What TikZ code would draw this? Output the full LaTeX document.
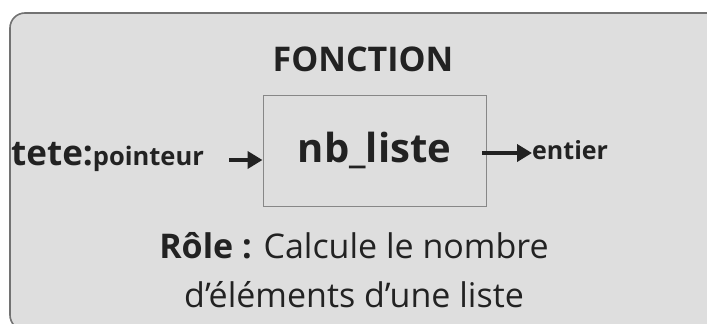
\documentclass[tikz,border=0pt]{standalone}
\usepackage{fontspec}
\setmainfont{Open Sans}
\usetikzlibrary{arrows.meta,positioning}
\definecolor{fond}{HTML}{DEDEDE}
\definecolor{bord}{HTML}{727272}
\definecolor{encre}{HTML}{222222}

\begin{document}
\begin{tikzpicture}[x=1pt,y=-1pt]
      \tikzstyle{every node}=[text=encre, inner sep=0pt]
      \tikzstyle{fleche}=[draw=encre, line width=4.2pt,
        -{Triangle[length=15pt,width=17pt]}]
      \useasboundingbox (0,0) rectangle (707,324);
      % cadre gris (coupe a droite et en bas)
      \draw[fill=fond, draw=bord, line width=1.6pt, rounded corners=15pt]
        (10,13) rectangle (722,330);
      \node[anchor=base, font=\bfseries\fontsize{34}{40}\selectfont] (titre)
        at (363,71) {FONCTION};
      \node[draw=bord!85, line width=1pt, minimum width=223pt,
        minimum height=111pt, font=\bfseries\fontsize{40}{48}\selectfont]
        (fct) at (374.5,150.5) {nb\_liste};
      % parametres
      \node[anchor=base west, font=\bfseries\fontsize{35}{40}\selectfont] (tete)
        at (11,165) {tete:{\fontsize{25.5}{30}\selectfont pointeur}};
      \node[anchor=base west, font=\bfseries\fontsize{25}{30}\selectfont] (entier)
        at (532,159) {entier};
      \coordinate (entree) at (229,160);
      \coordinate (sortie) at (482,153);
      \draw[fleche] (entree) -- (entree -| fct.west);
      \draw[fleche] (sortie) -- (sortie -| entier.west);
      % role
      \node[anchor=base, font=\fontsize{34}{40}\selectfont] (role)
        at (354,258) {\textbf{Rôle :} Calcule le nombre};
      \node[anchor=base, font=\fontsize{34}{40}\selectfont] (role2)
        at (354,307) {d’éléments d’une liste};
\end{tikzpicture}
\end{document}
